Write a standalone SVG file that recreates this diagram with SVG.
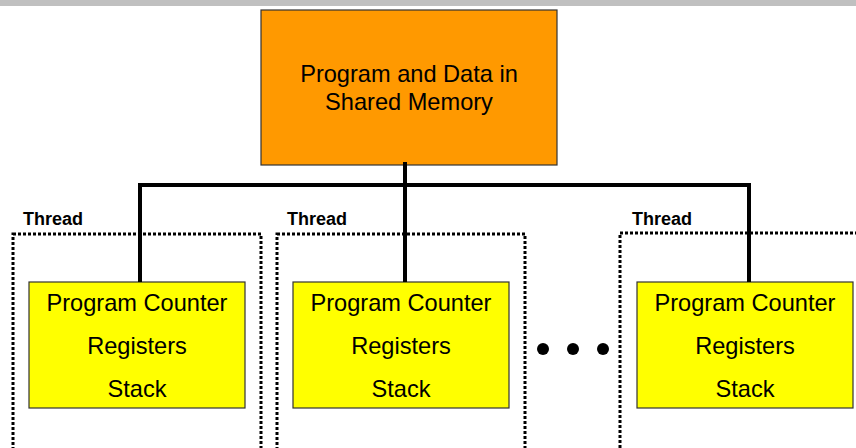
<svg xmlns="http://www.w3.org/2000/svg" width="856" height="448" viewBox="0 0 856 448">
<style>
.txt{font-family:"Liberation Sans",Arial,sans-serif;font-size:23.6px;fill:#000;text-anchor:middle}
.lbl{font-family:"Liberation Sans",Arial,sans-serif;font-size:18px;font-weight:bold;fill:#000}
.reg{fill:#FFFF00;stroke:#333;stroke-width:1.2}
.thr{fill:none;stroke:#000;stroke-width:3;stroke-dasharray:3 2}
.con{stroke:#000;stroke-width:4;fill:none}
</style>
<rect x="0" y="0" width="856" height="448" fill="#fff"/>
<rect x="0" y="0" width="856" height="6" fill="#c0c0c0"/>
<g id="memory">
<rect x="261" y="10" width="296" height="155" fill="#FF9900" stroke="#333" stroke-width="1.2"/>
<text class="txt" x="409" y="82">Program and Data in</text>
<text class="txt" x="409" y="110">Shared Memory</text>
</g>
<g id="thread1">
<rect class="thr" x="13" y="234" width="248" height="230"/>
<text class="lbl" x="23" y="225">Thread</text>
<rect class="reg" x="29" y="282" width="216" height="126"/>
<text class="txt" x="137" y="311">Program Counter</text>
<text class="txt" x="137" y="354">Registers</text>
<text class="txt" x="137" y="397">Stack</text>
</g>
<g id="thread2">
<rect class="thr" x="277" y="234" width="248" height="230"/>
<text class="lbl" x="287" y="225">Thread</text>
<rect class="reg" x="293" y="282" width="216" height="126"/>
<text class="txt" x="401" y="311">Program Counter</text>
<text class="txt" x="401" y="354">Registers</text>
<text class="txt" x="401" y="397">Stack</text>
</g>
<g id="ellipsis">
<circle cx="543" cy="349" r="6" fill="#000"/>
<circle cx="573" cy="349" r="6" fill="#000"/>
<circle cx="603" cy="349" r="6" fill="#000"/>
</g>
<g id="thread3">
<rect class="thr" x="620" y="233" width="260" height="230"/>
<text class="lbl" x="632" y="225">Thread</text>
<rect class="reg" x="637" y="282" width="216" height="126"/>
<text class="txt" x="745" y="311">Program Counter</text>
<text class="txt" x="745" y="354">Registers</text>
<text class="txt" x="745" y="397">Stack</text>
</g>
<g id="connectors">
<line class="con" x1="405" y1="162" x2="405" y2="282"/>
<polyline class="con" points="140,282 140,185 749,185 749,282"/>
</g>
</svg>
